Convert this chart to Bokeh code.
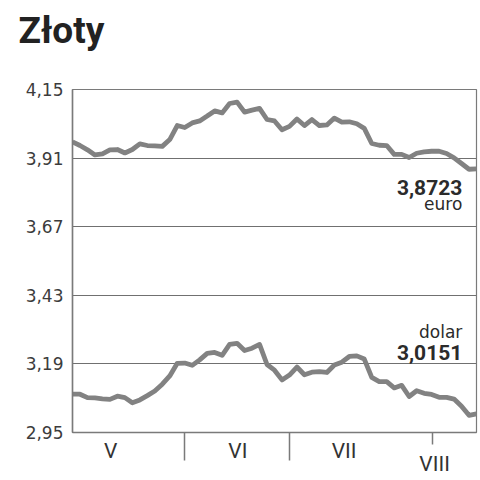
from bokeh.plotting import figure
from bokeh.models import Range1d, FixedTicker, Label, ColumnDataSource, LinearAxis, Title
from bokeh.embed import file_html
from bokeh.resources import INLINE

# --- data ---
euro = [3.967, 3.954, 3.939, 3.921, 3.925, 3.939, 3.940, 3.928, 3.940, 3.960,
        3.954, 3.953, 3.951, 3.975, 4.024, 4.017, 4.033, 4.040, 4.057, 4.075,
        4.068, 4.101, 4.106, 4.071, 4.078, 4.084, 4.045, 4.040, 4.009, 4.021,
        4.047, 4.024, 4.045, 4.024, 4.026, 4.050, 4.036, 4.037, 4.030, 4.014,
        3.961, 3.955, 3.954, 3.923, 3.923, 3.912, 3.927, 3.932, 3.934, 3.934,
        3.926, 3.911, 3.891, 3.871, 3.8723]
dolar = [3.084, 3.084, 3.072, 3.071, 3.068, 3.066, 3.077, 3.072, 3.054, 3.064,
         3.079, 3.095, 3.119, 3.148, 3.192, 3.193, 3.185, 3.204, 3.227, 3.230,
         3.220, 3.258, 3.262, 3.237, 3.245, 3.258, 3.188, 3.168, 3.134, 3.151,
         3.179, 3.152, 3.161, 3.163, 3.160, 3.186, 3.196, 3.216, 3.218, 3.207,
         3.143, 3.128, 3.128, 3.106, 3.115, 3.076, 3.096, 3.087, 3.083, 3.073,
         3.073, 3.067, 3.042, 3.010, 3.0151]
days = list(range(len(euro)))

y_ticks = [2.95, 3.19, 3.43, 3.67, 3.91, 4.15]
y_tick_labels = ["2,95", "3,19", "3,43", "3,67", "3,91", "4,15"]

month_bounds = [15.0, 29.0]        # long ticks (V|VI, VI|VII)
month_bounds_short = [48.1]        # short tick (start of VIII)
month_names = ["V", "VI", "VII"]
month_label_x = [5.1, 22.1, 36.3]
last_month_name = "VIII"
last_month_x = 48.4

title_text = "Złoty"
euro_last = "3,8723"
dolar_last = "3,0151"

GREY_LINE = "#828282"
FRAME = "#7a7a7a"
TEXT = "#2b2b2b"

p = figure(width=478, height=478, output_backend="svg", toolbar_location=None,
           x_range=Range1d(0, len(euro) - 1), y_range=Range1d(y_ticks[0], y_ticks[-1]),
           min_border_left=72, min_border_right=2, min_border_top=89, min_border_bottom=46)
p.background_fill_color = "white"
p.border_fill_color = "white"
p.outline_line_color = FRAME
p.outline_line_width = 1.2

src = ColumnDataSource(dict(x=days, euro=euro, dolar=dolar))
p.line("x", "euro", source=src, line_color=GREY_LINE, line_width=4.8, line_join="round")
p.line("x", "dolar", source=src, line_color=GREY_LINE, line_width=4.8, line_join="round")

# title (outermost) and an empty spacer title between it and the frame
p.title.text = title_text
p.title.text_font = "Roboto"
p.title.text_font_style = "bold"
p.title.text_font_size = "37px"
p.title.text_color = "#222222"
p.title.align = "left"
p.title.offset = -54
p.title.standoff = 0
p.add_layout(Title(text=" ", text_font_size="20px", standoff=14), "above")

# y axis
yax = p.yaxis[0]
yax.ticker = FixedTicker(ticks=y_ticks)
yax.major_label_overrides = {t: l for t, l in zip(y_ticks, y_tick_labels)}
yax.major_tick_out = 0
yax.major_tick_in = 0
yax.minor_tick_out = 0
yax.minor_tick_in = 0
yax.axis_line_color = FRAME
yax.axis_line_width = 1.5
yax.major_label_standoff = 9
yax.major_label_text_font = "DejaVu Sans"
yax.major_label_text_font_size = "17px"
yax.major_label_text_color = "#3c3c3c"

# x axis: month boundary ticks
xax = p.xaxis[0]
xax.ticker = FixedTicker(ticks=month_bounds, minor_ticks=month_bounds_short)
xax.major_tick_out = 28
xax.major_tick_in = 0
xax.minor_tick_out = 12
xax.minor_tick_in = 0
xax.major_tick_line_color = FRAME
xax.major_tick_line_width = 1.5
xax.minor_tick_line_color = FRAME
xax.minor_tick_line_width = 1.5
xax.axis_line_color = FRAME
xax.axis_line_width = 1.5
xax.major_label_standoff = 0
xax.major_label_text_font_size = "0px"
xax.major_label_text_color = None

# month names (V, VI, VII) and the last month (VIII), set lower
ax_m = LinearAxis(ticker=FixedTicker(ticks=month_label_x),
                  major_label_overrides={x: n for x, n in zip(month_label_x, month_names)})
ax_l = LinearAxis(ticker=FixedTicker(ticks=[last_month_x]),
                  major_label_overrides={last_month_x: last_month_name})
for ax, so in ((ax_m, -22), (ax_l, -14)):
    ax.axis_line_color = None
    ax.major_tick_line_color = None
    ax.minor_tick_line_color = None
    ax.major_tick_out = 0
    ax.major_tick_in = 0
    ax.minor_tick_out = 0
    ax.minor_tick_in = 0
    ax.major_label_standoff = so
    ax.major_label_text_font = "Roboto"
    ax.major_label_text_font_size = "21px"
    ax.major_label_text_color = "#333333"
    p.add_layout(ax, "below")

p.xgrid.visible = False
p.ygrid.ticker = FixedTicker(ticks=y_ticks)
p.ygrid.grid_line_color = "#707070"
p.ygrid.grid_line_width = 1

p.add_layout(Label(x=52.1, y=3.808, text=euro_last, text_align="right",
                   text_baseline="alphabetic", text_font="Roboto", text_font_style="bold",
                   text_font_size="21px", text_color=TEXT))
p.add_layout(Label(x=52.1, y=3.748, text="euro", text_align="right",
                   text_baseline="alphabetic", text_font="DejaVu Sans",
                   text_font_size="17px", text_color=TEXT))
p.add_layout(Label(x=52.1, y=3.301, text="dolar", text_align="right",
                   text_baseline="alphabetic", text_font="DejaVu Sans",
                   text_font_size="17px", text_color=TEXT))
p.add_layout(Label(x=52.1, y=3.231, text=dolar_last, text_align="right",
                   text_baseline="alphabetic", text_font="Roboto", text_font_style="bold",
                   text_font_size="21px", text_color=TEXT))

open("out.html", "w").write(file_html(p, INLINE))
